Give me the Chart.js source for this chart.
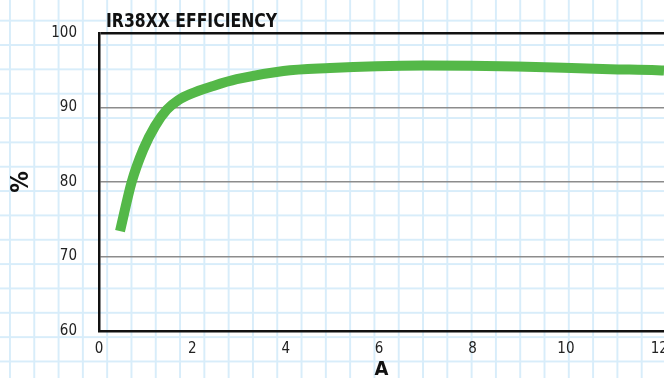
<!DOCTYPE html>
<html>
<head>
<meta charset="utf-8">
<script src="https://cdn.jsdelivr.net/npm/chart.js@4/dist/chart.umd.min.js"></script>
<style>
  html, body {
    margin: 0;
    padding: 0;
    width: 664px;
    height: 378px;
    overflow: hidden;
    background-color: #fff;
    /* papel cuadriculado */
    background-image:
      linear-gradient(to right, rgb(216,237,250) 2px, transparent 2px),
      linear-gradient(to bottom, rgb(216,237,250) 2px, transparent 2px);
    background-size: 24.3px 24.35px;
    background-position: 9px 19.7px;
  }
  canvas { display: block; }
</style>
</head>
<body>
<canvas id="myChart" width="690" height="378"></canvas>
<script>
// Datos
const chartTitle = 'IR38XX EFFICIENCY';
const corriente = [0.45, 0.7, 0.95, 1.2, 1.45, 1.7, 1.95, 2.45, 2.95, 3.95, 4.95, 5.95, 6.95, 7.95, 8.95, 9.95, 10.95, 11.95, 12.1];
const eficiencia = [73.4, 80, 84.4, 87.5, 89.7, 91.0, 91.8, 92.9, 93.8, 94.9, 95.3, 95.55, 95.65, 95.6, 95.5, 95.35, 95.15, 95.0, 94.95];
const xTicks = [0, 2, 4, 6, 8, 10, 12];
const yTicks = [60, 70, 80, 90, 100];

const fuente = '"Liberation Sans Narrow", "DejaVu Sans Condensed", "Roboto Condensed", sans-serif';

// Título arriba a la izquierda (un poco estrechado, como la fuente condensada del original)
const tituloPlugin = {
  id: 'titulo',
  afterDraw(chart) {
    const c = chart.ctx;
    c.save();
    c.font = 'bold 20px ' + fuente;
    c.fillStyle = '#111';
    c.textBaseline = 'alphabetic';
    c.translate(106, 27);
    c.scale(0.87, 1);
    c.fillText(chartTitle, 0, 0);
    c.restore();
  }
};

const ctx = document.getElementById('myChart').getContext('2d');

const chart = new Chart(ctx, {
  type: 'line',
  data: {
    datasets: [{
      data: corriente.map((x, i) => ({ x: x, y: eficiencia[i] })),
      borderColor: '#54b848',
      borderWidth: 10,
      borderCapStyle: 'butt',
      pointRadius: 0,
      cubicInterpolationMode: 'monotone',
      fill: false
    }]
  },
  options: {
    responsive: false,
    animation: false,
    events: [],
    layout: { padding: { top: 33, left: 0, right: 26, bottom: 0 } },
    plugins: {
      legend: { display: false },
      tooltip: { enabled: false }
    },
    scales: {
      x: {
        type: 'linear',
        min: 0,
        max: 12.1,
        afterFit(scale) { scale.height = 47; },
        afterBuildTicks(scale) { scale.ticks = xTicks.map(v => ({ value: v })); },
        grid: { display: false, drawTicks: false },
        border: { display: true, color: '#111', width: 2.5 },
        ticks: {
          padding: 9,
          color: '#222',
          font: { family: fuente, size: 15 }
        },
        title: {
          display: true,
          text: 'A',
          color: '#111',
          padding: { top: 0, bottom: 0 },
          font: { family: fuente, size: 20, weight: 'bold', lineHeight: 0.87 }
        }
      },
      y: {
        min: 60,
        max: 100,
        afterFit(scale) { scale.width = 99; },
        afterBuildTicks(scale) { scale.ticks = yTicks.map(v => ({ value: v })); },
        grid: {
          drawTicks: false,
          color: c => c.tick.value === 100 ? '#111' : (c.tick.value === 60 ? 'rgba(0,0,0,0)' : '#8c8c8c'),
          lineWidth: c => c.tick.value === 100 ? 2.5 : 1.5
        },
        border: { display: true, color: '#111', width: 2.5 },
        ticks: {
          padding: 22,
          color: '#222',
          font: { family: fuente, size: 15 }
        },
        title: {
          display: true,
          text: '%',
          color: '#111',
          padding: { top: 7, bottom: 0 },
          font: { family: fuente, size: 24, weight: 'bold', lineHeight: 1.2 }
        }
      }
    }
  },
  plugins: [tituloPlugin]
});
</script>
</body>
</html>
